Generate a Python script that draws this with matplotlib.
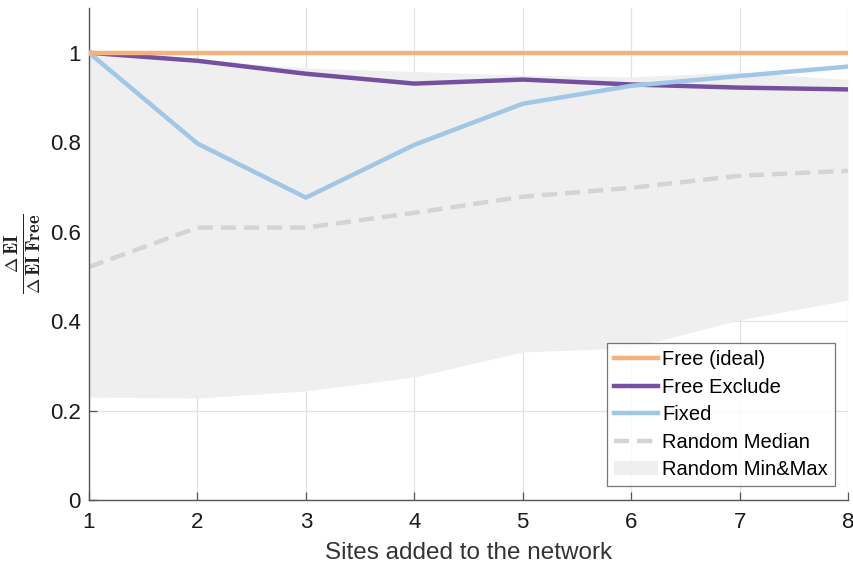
import matplotlib.pyplot as plt
import numpy as np

plt.rcParams['font.family'] = ['Liberation Sans', 'DejaVu Sans']
plt.rcParams['mathtext.fontset'] = 'cm'

sites = [1, 2, 3, 4, 5, 6, 7, 8]
free_ideal = [1, 1, 1, 1, 1, 1, 1, 1]
free_exclude = [1.0, 0.982, 0.953, 0.931, 0.940, 0.929, 0.922, 0.918]
fixed = [1.0, 0.797, 0.676, 0.794, 0.886, 0.926, 0.948, 0.969]
random_median = [0.521, 0.609, 0.609, 0.642, 0.678, 0.698, 0.725, 0.736]
random_min = [0.230, 0.228, 0.244, 0.275, 0.331, 0.340, 0.403, 0.447]
random_max = [1.0, 0.985, 0.966, 0.958, 0.950, 0.946, 0.957, 0.940]

c_free = '#F4B27E'
c_excl = '#7650A0'
c_fixed = '#A2C6E6'
c_med = '#D4D4D4'
c_fill = '#EFEFEF'

fig = plt.figure(figsize=(8.54, 5.70), dpi=100)
ax = fig.add_axes([89 / 854, 70 / 570, 759 / 854, 492 / 570])

ax.fill_between(sites, random_min, random_max, color=c_fill, lw=0,
                label='Random Min&Max', zorder=1)
ax.plot(sites, free_ideal, color=c_free, lw=3.2, label='Free (ideal)', zorder=4)
ax.plot(sites, free_exclude, color=c_excl, lw=3.2, label='Free Exclude', zorder=3)
ax.plot(sites, fixed, color=c_fixed, lw=3.2, label='Fixed', zorder=3)
ax.plot(sites, random_median, color=c_med, lw=3.2, ls=(0, (3.4, 1.8)),
        label='Random Median', zorder=2)

ax.set_xlim(1, 8)
ax.set_ylim(0, 1.1)
ax.set_xticks(sites)
ax.set_yticks([0, 0.2, 0.4, 0.6, 0.8, 1])
ax.set_yticklabels(['0', '0.2', '0.4', '0.6', '0.8', '1'])
ax.grid(True, color='#E2E2E2', lw=0.9, zorder=0)
ax.set_axisbelow(True)

for s in ['top', 'right']:
    ax.spines[s].set_visible(False)
for s in ['left', 'bottom']:
    ax.spines[s].set_color('#555555')
    ax.spines[s].set_linewidth(1.0)

ax.tick_params(direction='in', length=6, width=0.9, color='#555555',
               labelsize=16, labelcolor='#1a1a1a', pad=6)
ax.tick_params(axis='x', pad=9)

ax.set_xlabel('Sites added to the network', fontsize=17.5, color='#333333', labelpad=6)
ax.set_ylabel(r'$\mathbf{\frac{\Delta\,EI}{\Delta\,EI\;Free}}$', fontsize=19,
              color='#222222', labelpad=4)

handles, labels = ax.get_legend_handles_labels()
order = [1, 2, 3, 4, 0]
leg = ax.legend([handles[i] for i in order], [labels[i] for i in order],
                loc='lower right', bbox_to_anchor=(0.988, 0.02), fontsize=14.5,
                frameon=True, fancybox=False, handlelength=2.2, handletextpad=0.2,
                borderpad=0.35, labelspacing=0.42, borderaxespad=0.2)
leg.get_frame().set_edgecolor('#555555')
leg.get_frame().set_linewidth(0.9)

fig.savefig('out.png', dpi=100)
